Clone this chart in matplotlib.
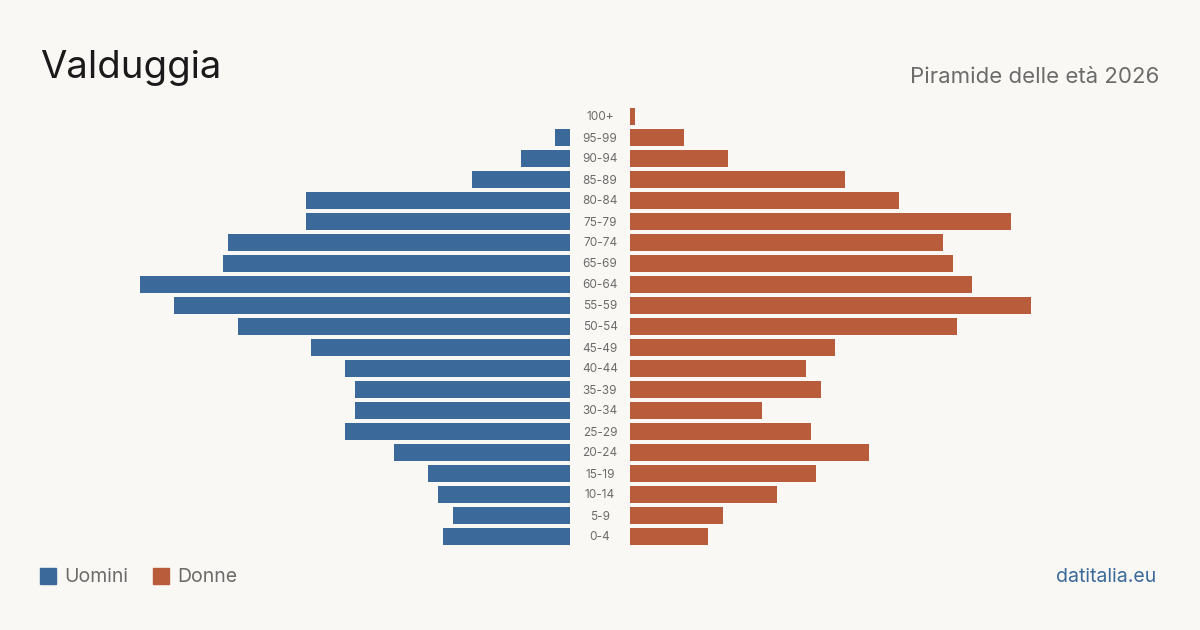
import matplotlib.pyplot as plt
import numpy as np

plt.rcParams['font.family'] = ['Inter', 'DejaVu Sans']

ages = ['0-4', '5-9', '10-14', '15-19', '20-24', '25-29', '30-34', '35-39',
        '40-44', '45-49', '50-54', '55-59', '60-64', '65-69', '70-74',
        '75-79', '80-84', '85-89', '90-94', '95-99', '100+']
uomini = [26, 24, 27, 29, 36, 46, 44, 44, 46, 53, 68, 81, 88, 71, 70,
          54, 54, 20, 10, 3, 0]
donne = [16, 19, 30, 38, 49, 37, 27, 39, 36, 42, 67, 82, 70, 66, 64,
         78, 55, 44, 20, 11, 1]

BG = '#f9f8f4'
BLUE = '#3b6a9a'
RED = '#b85c3c'
GREY = '#6b6b6b'

W, H = 1200, 630
fig = plt.figure(figsize=(12, 6.3), dpi=100, facecolor=BG)

px_per_unit = 430 / max(uomini)
top, bottom = 106, 547
ax_w = 530
lim = ax_w / px_per_unit

ax_l = fig.add_axes([(570 - ax_w) / W, (H - bottom) / H, ax_w / W, (bottom - top) / H])
ax_r = fig.add_axes([630 / W, (H - bottom) / H, ax_w / W, (bottom - top) / H])

y = np.arange(len(ages))
ax_l.barh(y, uomini, height=0.8, color=BLUE)
ax_r.barh(y, donne, height=0.8, color=RED)
ax_l.set_xlim(lim, 0)
ax_r.set_xlim(0, lim)

for ax in (ax_l, ax_r):
    ax.set_ylim(-0.5, len(ages) - 0.5)
    ax.set_facecolor('none')
    ax.axis('off')

# age labels in the gap between the two sides
for i, a in enumerate(ages):
    yf = (H - bottom) / H + (i + 0.5) / len(ages) * (bottom - top) / H
    fig.text(600 / W, yf - 1 / H, a, ha='center', va='center', fontsize=8.5, color=GREY)

fig.text(40 / W, 1 - 68 / H, 'Valduggia', fontsize=27.5, color='#1a1a1a',
         ha='left', va='center')
fig.text(1159 / W, 1 - 77 / H, 'Piramide delle età 2026', fontsize=16,
         color=GREY, ha='right', va='center')

# legend
fig.patches.append(plt.Rectangle((40 / W, 1 - 584 / H), 16 / W, 16 / H,
                                 transform=fig.transFigure, color=BLUE))
fig.text(64 / W, 1 - 577 / H, 'Uomini', fontsize=14, color=GREY, va='center')
fig.patches.append(plt.Rectangle((153 / W, 1 - 584 / H), 16 / W, 16 / H,
                                 transform=fig.transFigure, color=RED))
fig.text(177 / W, 1 - 577 / H, 'Donne', fontsize=14, color=GREY, va='center')

fig.text(1156 / W, 1 - 577 / H, 'datitalia.eu', fontsize=14, color=BLUE,
         ha='right', va='center')

fig.savefig('out.png', dpi=100, facecolor=BG)
